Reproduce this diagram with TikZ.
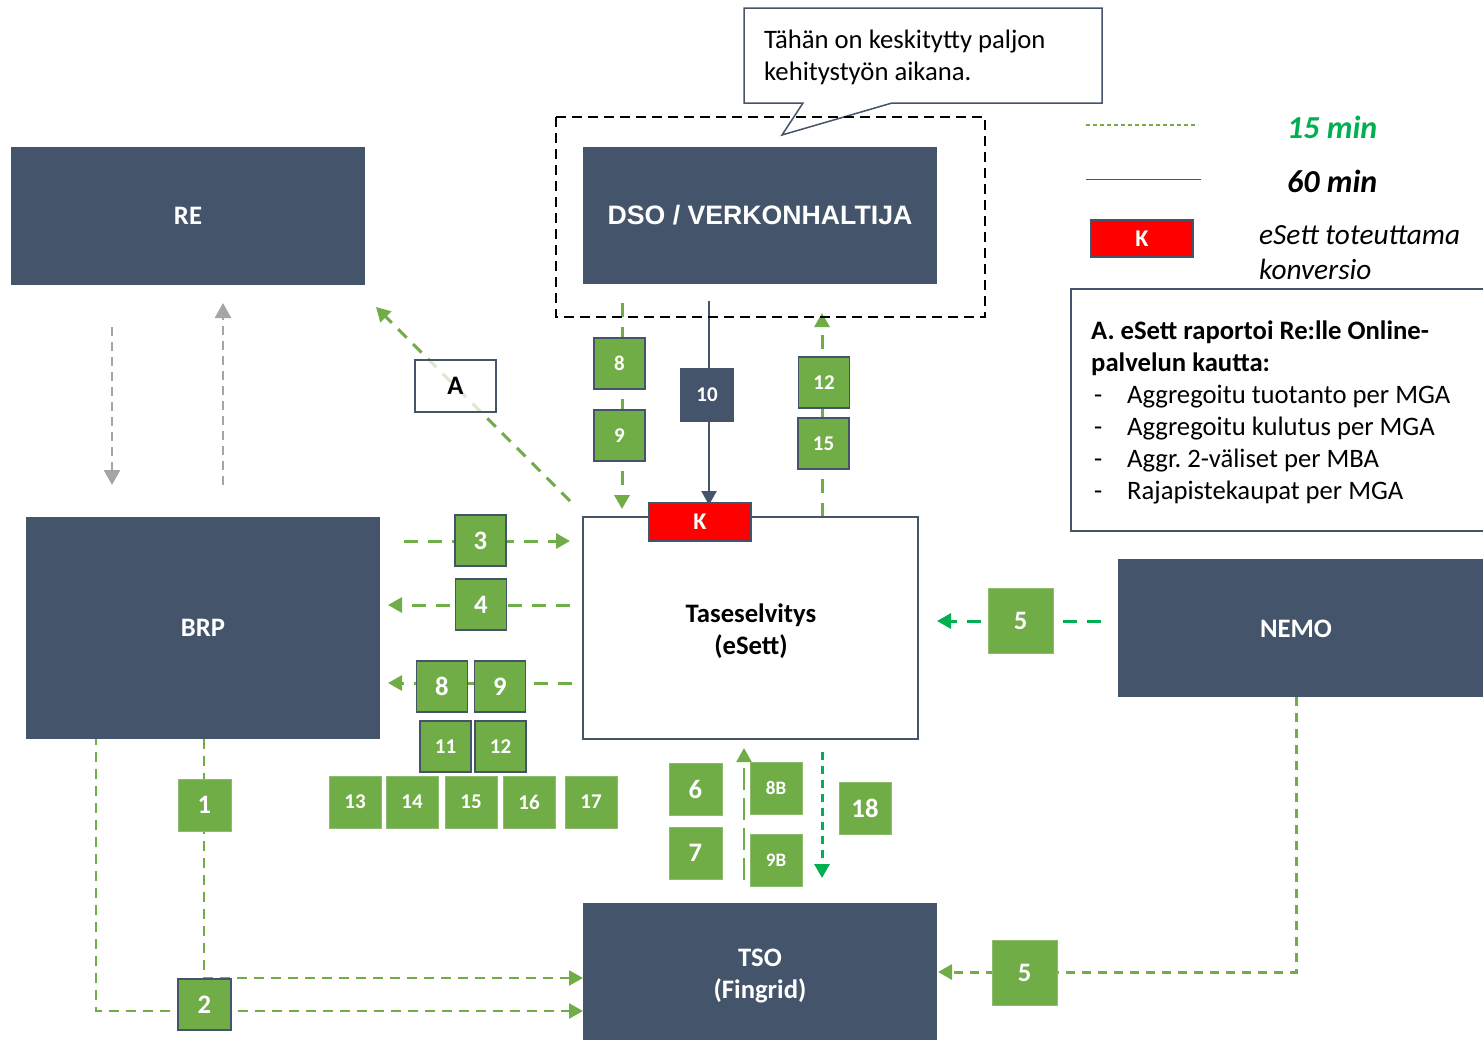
\documentclass[tikz,border=0pt]{standalone}
\usepackage{fontspec}
\setmainfont{Carlito}
\newfontfamily\arialf{Liberation Sans}
\usetikzlibrary{arrows.meta}
\definecolor{navy}{HTML}{44546A}
\definecolor{gr}{HTML}{70AD47}
\definecolor{bgr}{HTML}{00B050}
\definecolor{gry}{HTML}{A5A5A5}
\newcommand\fsz[2]{\fontsize{#1}{#2}\selectfont}
\pgfdeclarelayer{bg}
\pgfsetlayers{bg,main}
\frenchspacing
\begin{document}
\begin{tikzpicture}[x=1pt,y=-1pt,
  darkbox/.style={fill=navy, draw=none, text=white, font=\bfseries\fsz{26.67}{32}, inner sep=0, align=center},
  gbox/.style={fill=gr, draw=navy, line width=1.5pt, text=white, font=\bfseries\fsz{26.67}{32}, minimum width=51pt, minimum height=51pt, inner sep=0},
  gboxnb/.style={gbox, draw=gr!80!white, line width=0.8pt},
  small/.style={font=\bfseries\fsz{21}{25}},
  tiny/.style={font=\bfseries\fsz{19}{23}},
  kbox/.style={fill=red, draw=navy, line width=1.5pt, minimum width=102pt, text=white, font=\bfseries\fsz{24}{28}, inner sep=0},
  gtip/.style={-{Triangle[width=15pt,length=14pt]}},
  legtext/.style={anchor=west, inner sep=0, align=left}
]
\useasboundingbox (0,0) rectangle (1483,1039);

% callout
\draw[navy, line width=1.5pt, fill=white] (744,8) -- (1102,8) -- (1102,103) -- (892,103) -- (782,135) -- (803,103) -- (744,103) -- cycle;
\node[legtext, font=\fsz{26.67}{32}] (callt) at (764,57) {Tähän on keskitytty paljon\\kehitystyön aikana.};

% dashed DSO frame
\draw[black, line width=2pt, dash pattern=on 10pt off 6pt] (556,117) rectangle (985,317);

% main boxes
\node[darkbox, minimum width=354pt, minimum height=138pt] (re) at (188,216) {RE};
\node[darkbox, minimum width=354pt, minimum height=137pt, font=\arialf\bfseries\fsz{26.67}{32}] (dso) at (760,215.5) {DSO / VERKONHALTIJA};
\node[darkbox, minimum width=354pt, minimum height=222pt] (brp) at (203,628) {BRP};
\node[darkbox, minimum width=365pt, minimum height=138pt] (nemo) at (1300.5,628) {};
\node[text=white, font=\bfseries\fsz{26.67}{32}, inner sep=0] (nemot) at (1296,629) {NEMO};
\node[darkbox, minimum width=354pt, minimum height=140pt] (tso) at (760,973) {};
\node[text=white, font=\bfseries\fsz{26.67}{32}, align=center, inner sep=0] (tsot) at (760,976) {TSO\\(Fingrid)};
\node[draw=navy, line width=1.5pt, fill=white, minimum width=335pt, minimum height=222pt, inner sep=0] (tase) at (750.5,628) {};
\node[font=\bfseries\fsz{26.67}{32}, align=center, inner sep=0] (taset) at (751,631) {Taseselvitys\\(eSett)};
\node[kbox, minimum height=38pt] (k) at (700,522) {K};

% green boxes
\node[gbox, small] (t8) at (619.5,363.5) {8};
\node[gbox, small] (t9) at (619.5,435.5) {9};
\node[gbox, small, fill=navy, minimum width=52pt, minimum height=52pt] (t10) at (707,395) {10};
\node[gbox, small] (t12) at (824,382.5) {12};
\node[gbox, small] (t15) at (823.5,443.5) {15};
\node[draw=navy, line width=1.5pt, fill=white, fill opacity=0.75, text opacity=1, minimum width=81pt, minimum height=52pt, font=\bfseries\fsz{26.67}{30}, inner sep=0] (abox) at (455.5,386) {A};
\node[gbox] (n3) at (480.5,540.5) {3};
\node[gbox] (n4) at (481,604.5) {4};
\node[gbox] (m8) at (442,686.5) {8};
\node[gbox] (m9) at (500,686.5) {9};
\node[gbox, small] (n11) at (445.5,746.5) {11};
\node[gbox, small] (n12) at (500.5,746.5) {12};
\node[gboxnb, small, minimum width=52pt, minimum height=52pt] (n13) at (355,802) {13};
\node[gboxnb, small, minimum width=52pt, minimum height=52pt] (n14) at (412,802) {14};
\node[gboxnb, small, minimum width=52pt, minimum height=52pt] (n15) at (471,802) {15};
\node[gboxnb, small, minimum width=52pt, minimum height=52pt] (n16) at (529,802) {16};
\node[gboxnb, small, minimum width=52pt, minimum height=52pt] (n17) at (591,802) {17};
\node[gboxnb, minimum width=53pt, minimum height=52pt] (n6) at (695.5,789) {6};
\node[gboxnb, minimum width=53pt, minimum height=52pt] (n7) at (695.5,853) {7};
\node[gboxnb, tiny, minimum width=52pt, minimum height=52pt] (b8) at (776,788) {8B};
\node[gboxnb, tiny, minimum width=52pt, minimum height=52pt] (b9) at (776,860) {9B};
\node[gboxnb, minimum width=52pt, minimum height=52pt] (n18) at (865,808) {18};
\node[gboxnb, minimum width=53pt, minimum height=52pt] (n1) at (204.5,805) {1};
\node[gbox, minimum width=53pt, minimum height=51pt] (n2) at (204.5,1004.5) {2};
\node[gboxnb, minimum width=65pt, minimum height=65pt] (f5a) at (1020.5,620.5) {5};
\node[gboxnb, minimum width=65pt, minimum height=65pt] (f5b) at (1024.5,972.5) {5};

% legend
\coordinate (lg1a) at (1086,125); \coordinate (lg1b) at (1198,125);
\coordinate (lg2a) at (1086,179); \coordinate (lg2b) at (1201,179);
\node[legtext, text=bgr, font=\bfseries\itshape\fsz{32}{38}] (l15) at (1287,127) {15 min};
\node[legtext, font=\bfseries\itshape\fsz{32}{38}] (l60) at (1287,181) {60 min};
\node[kbox, minimum height=37pt] (lk) at (1142,238.5) {K};
\node[legtext, font=\itshape\fsz{29.3}{35}] (lkt) at (1259,252.5) {eSett toteuttama\\konversio};

% A info box
\draw[navy, line width=1.5pt] (1071,289) rectangle (1495,531);
\node[legtext, font=\fsz{26.67}{32}] (ainfo) at (1091,412) {\textbf{A. eSett raportoi Re:lle Online-}\\\textbf{palvelun kautta:}\\\makebox[36pt][l]{\hspace{3pt}-}Aggregoitu tuotanto per MGA\\\makebox[36pt][l]{\hspace{3pt}-}Aggregoitu kulutus per MGA\\\makebox[36pt][l]{\hspace{3pt}-}Aggr. 2-väliset per MBA\\\makebox[36pt][l]{\hspace{3pt}-}Rajapistekaupat per MGA};

% free ends
\coordinate (g1s) at (112,327); \coordinate (g1e) at (112,485);
\coordinate (g2s) at (223,485); \coordinate (g2e) at (223,303);
\coordinate (as) at (570,501); \coordinate (ae) at (376,307);
\coordinate (c89s) at (622,303); \coordinate (c89e) at (622,509);
\coordinate (c10s) at (709,301); \coordinate (c10e) at (709,505);
\coordinate (c12s) at (822,517); \coordinate (c12e) at (822,313);
\coordinate (c3s) at (404,541); \coordinate (c3e) at (570,541);
\coordinate (c4s) at (570,605); \coordinate (c4e) at (388,605);
\coordinate (cm9s) at (572,683); \coordinate (cm9e) at (388,683);
\coordinate (c5s) at (1101,621); \coordinate (c5e) at (937,621);
\coordinate (c5bs) at (1296,697); \coordinate (c5bc) at (1296,972); \coordinate (c5be) at (938,972);
\coordinate (c6s) at (744,880); \coordinate (c6e) at (744,748);
\coordinate (c18s) at (822,752); \coordinate (c18e) at (822,878);
\coordinate (c1s) at (204,739); \coordinate (c1c) at (204,978); \coordinate (c1e) at (583,978);
\coordinate (c2m) at (204,1011); \coordinate (c2w) at (96,1011); \coordinate (c2e) at (96,697); \coordinate (c2r) at (583,1011);

\begin{pgfonlayer}{bg}
\draw[gry, line width=2.5pt, dash pattern=on 9pt off 6pt, -{Triangle[width=16pt,length=15pt]}] (g1s) -- (g1e);
\draw[gry, line width=2.5pt, dash pattern=on 9pt off 6pt, -{Triangle[width=16pt,length=15pt]}] (g2s) -- (g2e);
\draw[gr, line width=3pt, dash pattern=on 12pt off 9pt, gtip] (as) -- (ae);
\draw[gr, line width=3pt, dash pattern=on 14pt off 10pt, gtip] (c89s) -- (c89e);
\draw[navy, line width=2.5pt, -{Triangle[width=15pt,length=14pt]}] (c10s) -- (c10e);
\draw[gr, line width=3pt, dash pattern=on 14pt off 10pt, gtip] (c12s) -- (c12e);
\draw[gr, line width=3pt, dash pattern=on 14pt off 10pt, gtip] (c3s) -- (c3e);
\draw[gr, line width=3pt, dash pattern=on 14pt off 10pt, gtip] (c4s) -- (c4e);
\draw[gr, line width=3pt, dash pattern=on 14pt off 10pt, gtip] (cm9s) -- (cm9e);
\draw[bgr, line width=3pt, dash pattern=on 14pt off 10pt, gtip] (c5s) -- (c5e);
\draw[gr, line width=3pt, dash pattern=on 9pt off 7pt, gtip] (c5bs) -- (c5bc) -- (c5be);
\draw[gr, line width=2.2pt, dash pattern=on 22pt off 8pt, gtip] (c6s) -- (c6e);
\draw[bgr, line width=3pt, dash pattern=on 8pt off 6pt, gtip] (c18s) -- (c18e);
\draw[gr, line width=2.5pt, dash pattern=on 10pt off 7pt, gtip] (c1s) -- (c1c) -- (c1e);
\draw[gr, line width=2.5pt, dash pattern=on 10pt off 7pt, gtip] (c2m) -- (c2w) -- (c2e);
\draw[gr, line width=2.5pt, dash pattern=on 10pt off 7pt, gtip] (c2m) -- (c2r);
\draw[gr, line width=1.2pt, dash pattern=on 4pt off 3pt] (lg1a) -- (lg1b);
\draw[navy, line width=1pt] (lg2a) -- (lg2b);
\end{pgfonlayer}
\end{tikzpicture}
\end{document}
